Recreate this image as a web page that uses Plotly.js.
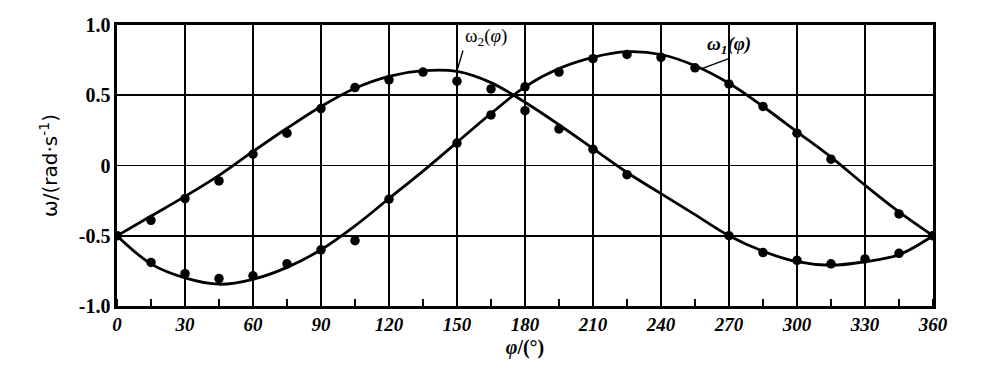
<!DOCTYPE html>
<html>
<head>
<meta charset="utf-8">
<script src="https://cdn.plot.ly/plotly-3.0.1.min.js"></script>
<style>html,body{margin:0;padding:0;background:#fff;}#chart{width:1000px;height:368px;}</style>
</head>
<body>
<div id="chart"></div>
<script>
// Crank angle φ (degrees)
const phi = [0, 15, 30, 45, 60, 75, 90, 105, 120, 135, 150, 165, 180, 195, 210, 225, 240, 255, 270, 285, 300, 315, 330, 345, 360];

// Fitted curves
const omega1Curve = [-0.5, -0.70, -0.80, -0.845, -0.81, -0.725, -0.60, -0.43, -0.235, -0.04, 0.165, 0.37, 0.56, 0.69, 0.77, 0.81, 0.79, 0.71, 0.585, 0.42, 0.24, 0.06, -0.14, -0.33, -0.5];
const omega2Curve = [-0.5, -0.36, -0.22, -0.07, 0.10, 0.265, 0.42, 0.55, 0.635, 0.675, 0.67, 0.59, 0.45, 0.29, 0.12, -0.05, -0.20, -0.35, -0.5, -0.61, -0.685, -0.71, -0.685, -0.635, -0.5];

// Measured points (null where no dot is drawn)
const omega1Points = [-0.5, -0.69, -0.77, -0.805, -0.785, -0.70, -0.60, -0.535, -0.24, null, 0.16, 0.36, 0.56, 0.665, 0.76, 0.79, 0.77, 0.695, 0.58, 0.42, 0.23, 0.045, null, -0.345, -0.5];
const omega2Points = [-0.5, -0.39, -0.235, -0.11, 0.08, 0.23, 0.405, 0.555, 0.61, 0.665, 0.60, 0.545, 0.39, 0.26, 0.115, -0.065, null, null, -0.5, -0.62, -0.675, -0.70, -0.665, -0.625, -0.5];

const xTicks = [0, 30, 60, 90, 120, 150, 180, 210, 240, 270, 300, 330, 360];
const yTicks = [-1.0, -0.5, 0, 0.5, 1.0];
const yTickText = ["-1.0", "-0.5", "0", "0.5", "1.0"];

const lineStyle = {color: '#000', width: 2.8, shape: 'spline', smoothing: 1};
const markerStyle = {color: '#000', size: 9.5};

const traces = [
  {x: phi, y: omega1Curve, mode: 'lines', line: lineStyle, hoverinfo: 'skip', showlegend: false},
  {x: phi, y: omega2Curve, mode: 'lines', line: lineStyle, hoverinfo: 'skip', showlegend: false},
  {x: phi, y: omega1Points, mode: 'markers', marker: markerStyle, showlegend: false},
  {x: phi, y: omega2Points, mode: 'markers', marker: markerStyle, showlegend: false}
];

const layout = {
  width: 1000, height: 368,
  margin: {l: 117, r: 67, t: 25, b: 62},
  paper_bgcolor: '#fff', plot_bgcolor: '#fff',
  showlegend: false,
  xaxis: {
    range: [0, 360],
    tickvals: xTicks,
    ticktext: xTicks.map(String),
    ticks: '',
    tickfont: {family: 'Liberation Serif, serif', size: 19, color: '#000', style: 'italic', weight: 'bold'},
    showgrid: true, gridcolor: '#000', gridwidth: 1.6,
    showline: true, linecolor: '#000', linewidth: 2.6, mirror: true,
    zeroline: false,
    minor: {dtick: 15, tick0: 0, ticks: 'inside', ticklen: 7, tickwidth: 1.6, tickcolor: '#000', showgrid: false},
    title: {text: '<i>φ</i>/(°)', font: {family: 'Liberation Serif, serif', size: 20, color: '#000', weight: 'bold'}, standoff: 6}
  },
  yaxis: {
    range: [-1.0, 1.0],
    tickvals: yTicks,
    ticktext: yTickText,
    ticks: '',
    tickfont: {family: 'Liberation Serif, serif', size: 20, color: '#000', weight: 'bold'},
    showgrid: true, gridcolor: '#000', gridwidth: 1.6,
    showline: true, linecolor: '#000', linewidth: 2.6, mirror: true,
    zeroline: false,
    title: {text: 'ω/(rad·s<sup>-1</sup>)', font: {family: 'DejaVu Sans, sans-serif', size: 20, color: '#000'}, standoff: 16}
  },
  annotations: [
    {x: 150, y: 0.675, xref: 'x', yref: 'y', text: 'ω<sub>2</sub>(<i>φ</i>)', showarrow: true, arrowhead: 0, arrowwidth: 1.4, arrowcolor: '#000',
     ax: 6, ay: -20, xanchor: 'left', yanchor: 'bottom', font: {family: 'Liberation Serif, serif', size: 19, color: '#000'}},
    {x: 258, y: 0.69, xref: 'x', yref: 'y', text: 'ω<sub>1</sub>(φ)', showarrow: true, arrowhead: 0, arrowwidth: 1.4, arrowcolor: '#000',
     ax: 27, ay: -10, xanchor: 'center', yanchor: 'bottom', font: {family: 'Liberation Serif, serif', size: 19, color: '#000', style: 'italic', weight: 'bold'}}
  ]
};

Plotly.newPlot('chart', traces, layout, {displayModeBar: false, staticPlot: true});
</script>
</body>
</html>
